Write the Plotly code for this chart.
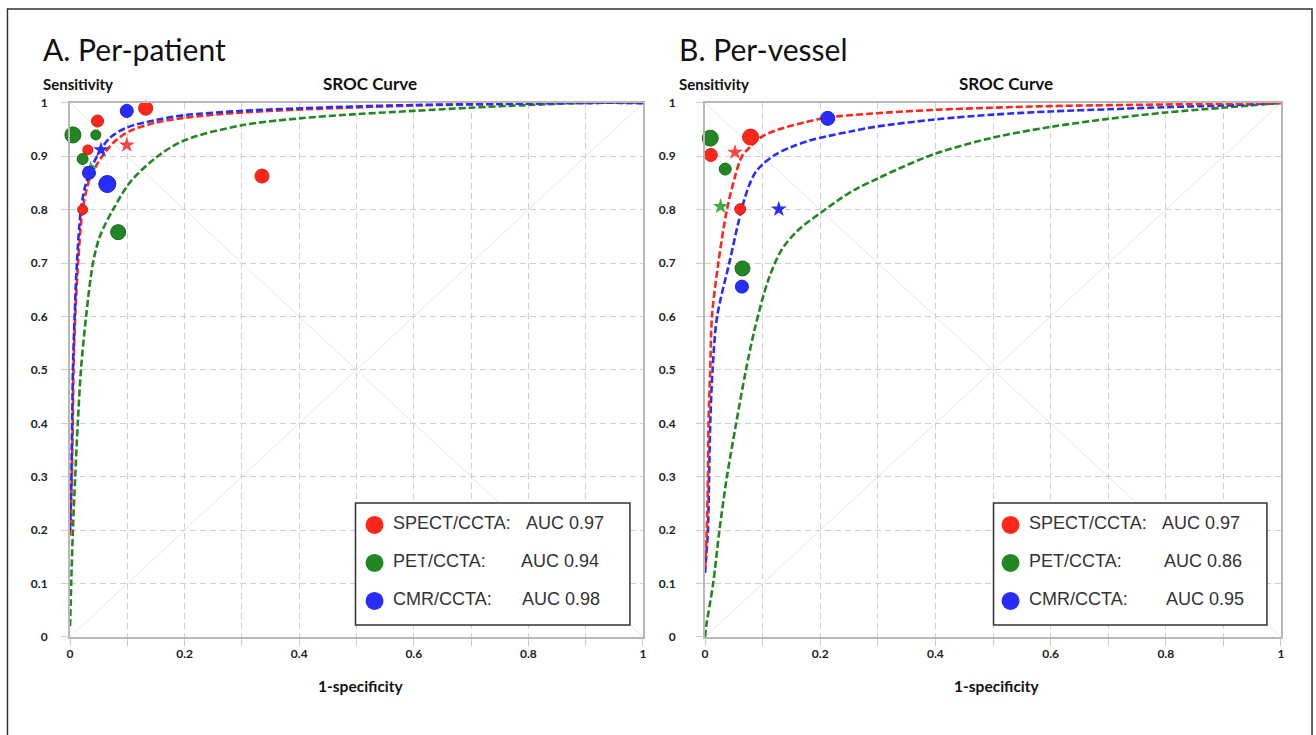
import plotly.graph_objects as go

W, H = 1316, 735

# ---------------- data ----------------
PANEL_TITLES = ["A. Per-patient", "B. Per-vessel"]
MODALITIES = ["SPECT/CCTA:", "PET/CCTA:", "CMR/CCTA:"]
AUC_A = ["AUC 0.97", "AUC 0.94", "AUC 0.98"]
AUC_B = ["AUC 0.97", "AUC 0.86", "AUC 0.95"]

X_TICKS = [0, 0.1, 0.2, 0.3, 0.4, 0.5, 0.6, 0.7, 0.8, 0.9, 1]
X_TICK_TEXT = ["0", "", "0.2", "", "0.4", "", "0.6", "", "0.8", "", "1"]
DIAG = [0, 1]

# SROC curves, panel A (per-patient)
A_RED_X = [0.0, 0.002, 0.004, 0.005, 0.006, 0.009, 0.014, 0.022, 0.035, 0.056, 0.08, 0.106, 0.15, 0.2, 0.3, 0.46, 0.6, 0.75, 0.9, 1.0]
A_RED_Y = [0.19, 0.25, 0.35, 0.42, 0.5, 0.6, 0.7, 0.8, 0.86, 0.9, 0.93, 0.948, 0.963, 0.972, 0.982, 0.99, 0.995, 0.998, 1.0, 1.0]
A_BLUE_X = [0.0, 0.002, 0.003, 0.004, 0.005, 0.008, 0.012, 0.019, 0.028, 0.047, 0.07, 0.1, 0.15, 0.2, 0.3, 0.46, 0.6, 0.75, 0.9, 1.0]
A_BLUE_Y = [0.2, 0.28, 0.35, 0.42, 0.5, 0.6, 0.7, 0.8, 0.85, 0.9, 0.935, 0.954, 0.968, 0.977, 0.985, 0.992, 0.996, 0.998, 1.0, 1.0]
A_GREEN_X = [0.0, 0.002, 0.005, 0.009, 0.0135, 0.019, 0.028, 0.04, 0.052, 0.075, 0.106, 0.153, 0.2, 0.3, 0.4, 0.5, 0.6, 0.7, 0.8, 0.9, 1.0]
A_GREEN_Y = [0.02, 0.1, 0.2, 0.3, 0.4, 0.5, 0.6, 0.7, 0.75, 0.8, 0.853, 0.9, 0.93, 0.958, 0.971, 0.979, 0.985, 0.991, 0.996, 1.0, 1.0]

# SROC curves, panel B (per-vessel)
B_RED_X = [0.0, 0.003, 0.005, 0.006, 0.009, 0.012, 0.023, 0.038, 0.052, 0.064, 0.076, 0.099, 0.133, 0.16, 0.21, 0.29, 0.4, 0.5, 0.6, 0.8, 1.0]
B_RED_Y = [0.13, 0.2, 0.3, 0.4, 0.5, 0.6, 0.7, 0.8, 0.862, 0.9, 0.915, 0.937, 0.952, 0.96, 0.972, 0.98, 0.987, 0.991, 0.994, 0.997, 1.0]
B_BLUE_X = [0.0, 0.002, 0.005, 0.007, 0.009, 0.013, 0.021, 0.042, 0.064, 0.076, 0.087, 0.099, 0.122, 0.151, 0.18, 0.214, 0.255, 0.3, 0.4, 0.5, 0.6, 0.7, 0.8, 0.9, 1.0]
B_BLUE_Y = [0.12, 0.15, 0.2, 0.3, 0.4, 0.5, 0.6, 0.7, 0.803, 0.844, 0.869, 0.884, 0.903, 0.918, 0.929, 0.938, 0.947, 0.956, 0.969, 0.978, 0.984, 0.988, 0.992, 0.995, 1.0]
B_GREEN_X = [0.0, 0.002, 0.014, 0.025, 0.038, 0.054, 0.071, 0.087, 0.11, 0.133, 0.162, 0.208, 0.237, 0.266, 0.301, 0.341, 0.4, 0.5, 0.6, 0.7, 0.8, 0.9, 1.0]
B_GREEN_Y = [0.0, 0.02, 0.1, 0.2, 0.3, 0.4, 0.5, 0.58, 0.669, 0.725, 0.762, 0.8, 0.822, 0.841, 0.859, 0.879, 0.905, 0.935, 0.955, 0.97, 0.982, 0.991, 1.0]

# individual studies (1-specificity, sensitivity, marker size)
A_RED_PTS_X = [0.048, 0.132, 0.031, 0.022, 0.335]
A_RED_PTS_Y = [0.966, 0.99, 0.912, 0.80, 0.863]
A_RED_PTS_S = [12, 14, 10, 10, 14]
A_RED_STAR_X = [0.099]
A_RED_STAR_Y = [0.921]

A_GREEN_PTS_X = [0.005, 0.045, 0.022, 0.084]
A_GREEN_PTS_Y = [0.94, 0.94, 0.895, 0.758]
A_GREEN_PTS_S = [16, 10, 11, 15]
A_GREEN_STAR_X = [0.036]
A_GREEN_STAR_Y = [0.876]

A_BLUE_PTS_X = [0.099, 0.033, 0.065]
A_BLUE_PTS_Y = [0.985, 0.869, 0.848]
A_BLUE_PTS_S = [13, 13, 17]
A_BLUE_STAR_X = [0.054]
A_BLUE_STAR_Y = [0.912]

B_RED_PTS_X = [0.010, 0.079, 0.061]
B_RED_PTS_Y = [0.9025, 0.936, 0.801]
B_RED_PTS_S = [13, 16, 11]
B_RED_STAR_X = [0.052]
B_RED_STAR_Y = [0.9075]

B_GREEN_PTS_X = [0.009, 0.035, 0.065]
B_GREEN_PTS_Y = [0.934, 0.876, 0.69]
B_GREEN_PTS_S = [16, 12, 15]
B_GREEN_STAR_X = [0.027]
B_GREEN_STAR_Y = [0.806]

B_BLUE_PTS_X = [0.213, 0.064]
B_BLUE_PTS_Y = [0.971, 0.656]
B_BLUE_PTS_S = [14, 13]
B_BLUE_STAR_X = [0.128]
B_BLUE_STAR_Y = [0.801]

# ---------------- styles ----------------
RED, GREEN, BLUE = "rgb(255,38,28)", "rgb(34,135,34)", "rgb(40,44,252)"
RED_E, GREEN_E, BLUE_E = "rgb(215,30,20)", "rgb(25,105,25)", "rgb(28,30,200)"
RED_STAR, GREEN_STAR, BLUE_STAR = "rgb(245,70,70)", "rgb(60,175,70)", "rgb(40,44,252)"
GRID = "#cfcfcf"
AXLINE = "#b8b8b8"
FONT = "Lato"

# calibration of page position -> photographed position
CAL_AX, CAL_BX = 0.9931, 3.06
CAL_AY, CAL_BY = 0.9794, 8.14


def px(x):
    return ((x - CAL_BX) / CAL_AX) / W


def py(y):
    return 1 - ((y - CAL_BY) / CAL_AY) / H


fig = go.Figure()

panels = [
    dict(ax="x", ay="y",
         curves=[(A_GREEN_X, A_GREEN_Y, GREEN), (A_RED_X, A_RED_Y, RED), (A_BLUE_X, A_BLUE_Y, BLUE)],
         pts=[(A_RED_PTS_X, A_RED_PTS_Y, A_RED_PTS_S, RED, RED_E),
              (A_GREEN_PTS_X, A_GREEN_PTS_Y, A_GREEN_PTS_S, GREEN, GREEN_E),
              (A_BLUE_PTS_X, A_BLUE_PTS_Y, A_BLUE_PTS_S, BLUE, BLUE_E)],
         stars=[(A_RED_STAR_X, A_RED_STAR_Y, RED_STAR),
                (A_GREEN_STAR_X, A_GREEN_STAR_Y, GREEN_STAR),
                (A_BLUE_STAR_X, A_BLUE_STAR_Y, BLUE_STAR)]),
    dict(ax="x2", ay="y2",
         curves=[(B_GREEN_X, B_GREEN_Y, GREEN), (B_BLUE_X, B_BLUE_Y, BLUE), (B_RED_X, B_RED_Y, RED)],
         pts=[(B_RED_PTS_X, B_RED_PTS_Y, B_RED_PTS_S, RED, RED_E),
              (B_GREEN_PTS_X, B_GREEN_PTS_Y, B_GREEN_PTS_S, GREEN, GREEN_E),
              (B_BLUE_PTS_X, B_BLUE_PTS_Y, B_BLUE_PTS_S, BLUE, BLUE_E)],
         stars=[(B_RED_STAR_X, B_RED_STAR_Y, RED_STAR),
                (B_GREEN_STAR_X, B_GREEN_STAR_Y, GREEN_STAR),
                (B_BLUE_STAR_X, B_BLUE_STAR_Y, BLUE_STAR)]),
]

for p in panels:
    for cx, cy, col in p["curves"]:
        fig.add_trace(go.Scatter(x=cx, y=cy, mode="lines", xaxis=p["ax"], yaxis=p["ay"],
                                 line=dict(color=col, width=2.6, dash="7px,3px", shape="spline", smoothing=0.9),
                                 showlegend=False, hoverinfo="skip", cliponaxis=False))
    for sx, sy, col in p["stars"]:
        fig.add_trace(go.Scatter(x=sx, y=sy, mode="markers", xaxis=p["ax"], yaxis=p["ay"],
                                 marker=dict(symbol="star", size=12, color=col, opacity=1, line=dict(width=0)),
                                 showlegend=False, cliponaxis=False))
    for qx, qy, qs, col, ecol in p["pts"]:
        fig.add_trace(go.Scatter(x=qx, y=qy, mode="markers", xaxis=p["ax"], yaxis=p["ay"],
                                 marker=dict(symbol="circle", size=qs, color=col, opacity=1,
                                             line=dict(width=1, color=ecol)),
                                 showlegend=False, cliponaxis=False))

axis_common = dict(range=[0, 1], showline=True, mirror=True, linecolor=AXLINE, linewidth=2,
                   showgrid=True, gridcolor=GRID, griddash="6px,4px", gridwidth=1,
                   zeroline=False, ticks="outside", ticklen=7, tickcolor=GRID, tickwidth=1,
                   tickfont=dict(family=FONT, size=12, color="#222", weight="bold"))

xdomA = [px(70), px(642)]
xdomB = [px(704), px(1279)]
ydom = [py(637), py(103)]

fig.update_layout(
    width=W, height=H, autosize=False,
    margin=dict(l=0, r=0, t=0, b=0, pad=0),
    paper_bgcolor="white", plot_bgcolor="white",
    xaxis=dict(domain=xdomA, anchor="y", tickvals=X_TICKS, ticktext=X_TICK_TEXT, ticklabelstandoff=-2, **axis_common),
    yaxis=dict(domain=ydom, anchor="x", dtick=0.1, ticklabelstandoff=11, **axis_common),
    xaxis2=dict(domain=xdomB, anchor="y2", tickvals=X_TICKS, ticktext=X_TICK_TEXT, ticklabelstandoff=-2, **axis_common),
    yaxis2=dict(domain=ydom, anchor="x2", dtick=0.1, ticklabelstandoff=18, **axis_common),
)

shapes = []
for xr, yr in (("x", "y"), ("x2", "y2")):
    shapes.append(dict(type="line", xref=xr, yref=yr, x0=DIAG[0], y0=DIAG[0], x1=DIAG[1], y1=DIAG[1],
                       line=dict(color="#e6e6e6", width=1), layer="below"))
    shapes.append(dict(type="line", xref=xr, yref=yr, x0=DIAG[0], y0=DIAG[1], x1=DIAG[1], y1=DIAG[0],
                       line=dict(color="#e6e6e6", width=1), layer="below"))

# outer frame (bottom edge lies below the visible page, as in the reference)
shapes.append(dict(type="rect", xref="paper", yref="paper", x0=px(7.5), x1=px(1310),
                   y0=py(760), y1=min(py(7), 1 - 1.0 / H),
                   line=dict(color="#333", width=1.5), fillcolor="rgba(0,0,0,0)"))

annotations = []
panel_px = [(42, 70, 642, 355, 629, 374, 390, [523, 518, 519]),
            (677, 704, 1279, 992, 1265, 1009, 1025, [1158, 1160, 1162])]
auc_sets = [AUC_A, AUC_B]
for i, (tx, l, r, bx0, bx1, mx, nx, aucx) in enumerate(panel_px):
    cx = (l + r) / 2
    annotations.append(dict(text=PANEL_TITLES[i], x=px(tx - 1), y=py(49), xref="paper", yref="paper",
                            xanchor="left", yanchor="middle", showarrow=False,
                            font=dict(family=FONT, size=30, color="#111")))
    annotations.append(dict(text="Sensitivity", x=px(tx - 1), y=py(84), xref="paper", yref="paper",
                            xanchor="left", yanchor="middle", showarrow=False,
                            font=dict(family=FONT, size=15, color="#111", weight="bold")))
    annotations.append(dict(text="SROC Curve", x=px(cx + 13), y=py(84), xref="paper", yref="paper",
                            xanchor="center", yanchor="middle", showarrow=False,
                            font=dict(family=FONT, size=17, color="#111", weight="bold")))
    annotations.append(dict(text="1-specificity", x=px(cx + 4), y=py(686), xref="paper", yref="paper",
                            xanchor="center", yanchor="middle", showarrow=False,
                            font=dict(family=FONT, size=15.5, color="#111", weight="bold")))
    # legend box
    shapes.append(dict(type="rect", xref="paper", yref="paper", x0=px(bx0), x1=px(bx1), y0=py(625), y1=py(503),
                       line=dict(color="#333", width=1.5), fillcolor="white", layer="above"))
    rows = [523, 561, 599]
    cols = [RED, GREEN, BLUE]
    for j in range(3):
        shapes.append(dict(type="circle", xref="paper", yref="paper", xsizemode="pixel", ysizemode="pixel",
                           xanchor=px(mx), yanchor=py(rows[j] + 2), x0=-9, x1=9, y0=-9, y1=9,
                           fillcolor=cols[j], line=dict(width=0), layer="above"))
        annotations.append(dict(text=MODALITIES[j], x=px(nx), y=py(rows[j]), xref="paper", yref="paper",
                                xanchor="left", yanchor="middle", showarrow=False,
                                font=dict(family="Liberation Sans", size=18, color="#333")))
        annotations.append(dict(text=auc_sets[i][j], x=px(aucx[j]), y=py(rows[j]), xref="paper", yref="paper",
                                xanchor="left", yanchor="middle", showarrow=False,
                                font=dict(family="Liberation Sans", size=18, color="#333")))

fig.update_layout(shapes=shapes, annotations=annotations)
fig.write_html("out.html",
               config={"responsive": False, "displayModeBar": False},
               post_script="document.body.style.margin='0';document.body.style.overflow='hidden';")
